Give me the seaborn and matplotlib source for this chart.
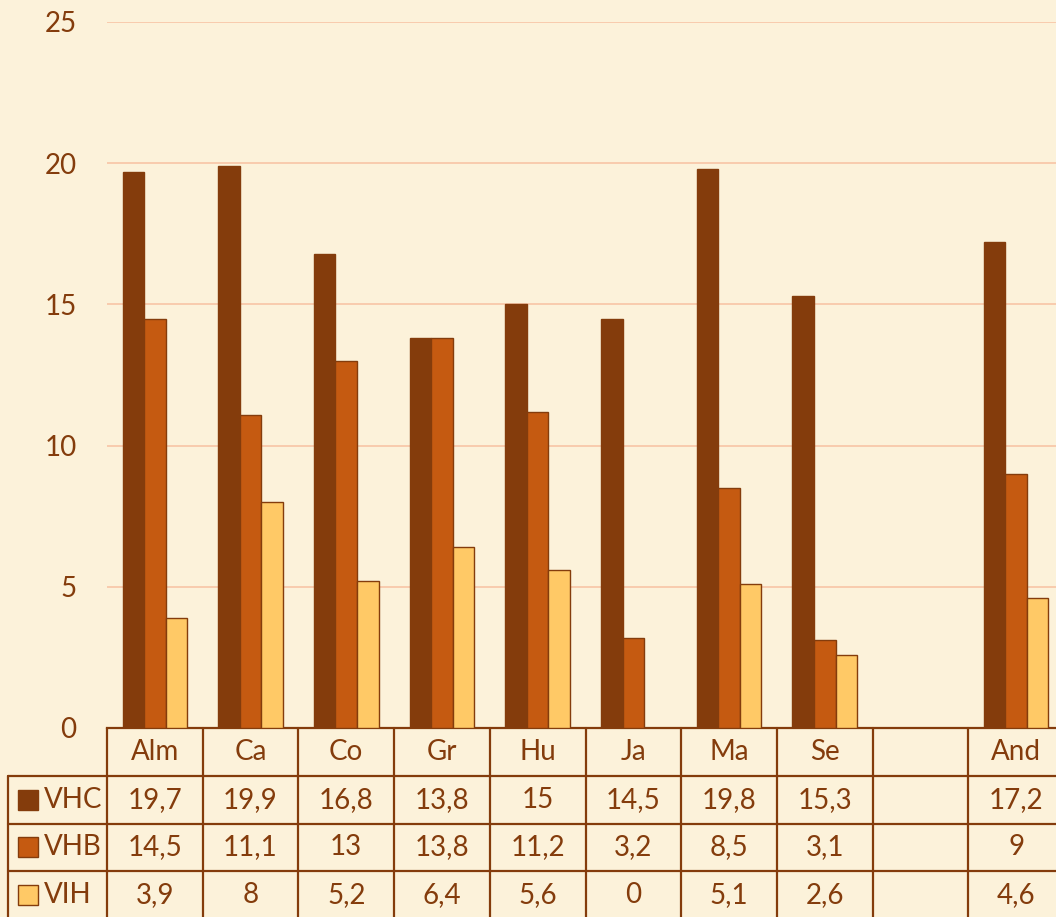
import numpy as np
import pandas as pd
import seaborn as sns
import matplotlib.pyplot as plt
from matplotlib.patches import Rectangle

sns.set_theme(style="white")
plt.rcParams['font.family'] = ['Lato', 'DejaVu Sans']

# data
categories = ["Alm", "Ca", "Co", "Gr", "Hu", "Ja", "Ma", "Se", " ", "And"]
series = ["VHC", "VHB", "VIH"]
vhc = [19.7, 19.9, 16.8, 13.8, 15, 14.5, 19.8, 15.3, np.nan, 17.2]
vhb = [14.5, 11.1, 13, 13.8, 11.2, 3.2, 8.5, 3.1, np.nan, 9]
vih = [3.9, 8, 5.2, 6.4, 5.6, 0, 5.1, 2.6, np.nan, 4.6]
colors = ["#843C0C", "#C55A11", "#FFC966"]

brown = "#843C0C"
bg = "#FCF2DA"

rows = []
for name, vals in zip(series, [vhc, vhb, vih]):
    for c, v in zip(categories, vals):
        rows.append({"cat": c, "serie": name, "val": v})
df = pd.DataFrame(rows)

W, H = 1056, 917
fig = plt.figure(figsize=(W / 100, H / 100), dpi=100, facecolor=bg)
ax = fig.add_axes([107 / W, (H - 728) / H, (1064 - 107) / W, (728 - 22) / H])
ax.set_facecolor(bg)

sns.barplot(data=df, x="cat", y="val", hue="serie", order=categories,
            hue_order=series, palette=colors, saturation=1, width=0.675, gap=0,
            edgecolor=brown, linewidth=1, ax=ax, legend=False, zorder=3)

ax.set_xlim(-0.5, len(categories) - 0.5)
ax.set_ylim(0, 25)
ax.set_yticks([0, 5, 10, 15, 20, 25])
ax.yaxis.grid(True, color="#F8CBAD", linewidth=1.4, zorder=0)
ax.set_axisbelow(True)
ax.tick_params(axis="y", length=0, pad=22, labelsize=20, labelcolor=brown)
ax.set_xticks([])
ax.set_xlabel("")
ax.set_ylabel("")
for s in ["top", "right", "left"]:
    ax.spines[s].set_visible(False)
ax.spines["bottom"].set_color(brown)
ax.spines["bottom"].set_linewidth(1.6)

# data table under the axis
ah = 728 - 22
rowh = 47.5 / ah
hdr = 48 / ah
colw = (1064 - 107) / len(categories)
left_x = -0.5 - (107 - 8) / colw
tr = ax.get_xaxis_transform()
lw = 1.6
bottom = -(hdr + 3 * rowh) - 0.01

for k in range(len(categories) + 1):
    xk = -0.5 + k
    ax.plot([xk, xk], [0, bottom], color=brown, lw=lw, transform=tr, clip_on=False)
ax.plot([left_x, left_x], [-hdr, bottom], color=brown, lw=lw, transform=tr, clip_on=False)
for r in range(4):
    yr = -hdr - r * rowh
    ax.plot([left_x, len(categories) - 0.5], [yr, yr], color=brown, lw=lw,
            transform=tr, clip_on=False)

for i, c in enumerate(categories):
    ax.text(i, -hdr / 2, c.strip(), ha="center", va="center", fontsize=20,
            color=brown, transform=tr, clip_on=False)


def fmt(v):
    if np.isnan(v):
        return ""
    return ("%g" % v).replace(".", ",")


sq = 20 / colw
for r, (name, vals, col) in enumerate(zip(series, [vhc, vhb, vih], colors)):
    yc = -hdr - (r + 0.5) * rowh
    ax.add_patch(Rectangle((left_x + 10 / colw, yc - 10 / ah), sq, 20 / ah,
                           facecolor=col, edgecolor=brown, lw=1,
                           transform=tr, clip_on=False))
    ax.text(left_x + 36 / colw, yc, name, ha="left", va="center", fontsize=20,
            color=brown, transform=tr, clip_on=False)
    for i, v in enumerate(vals):
        ax.text(i, yc, fmt(v), ha="center", va="center", fontsize=20,
                color=brown, transform=tr, clip_on=False)

fig.savefig("out.png", dpi=100, facecolor=bg)
